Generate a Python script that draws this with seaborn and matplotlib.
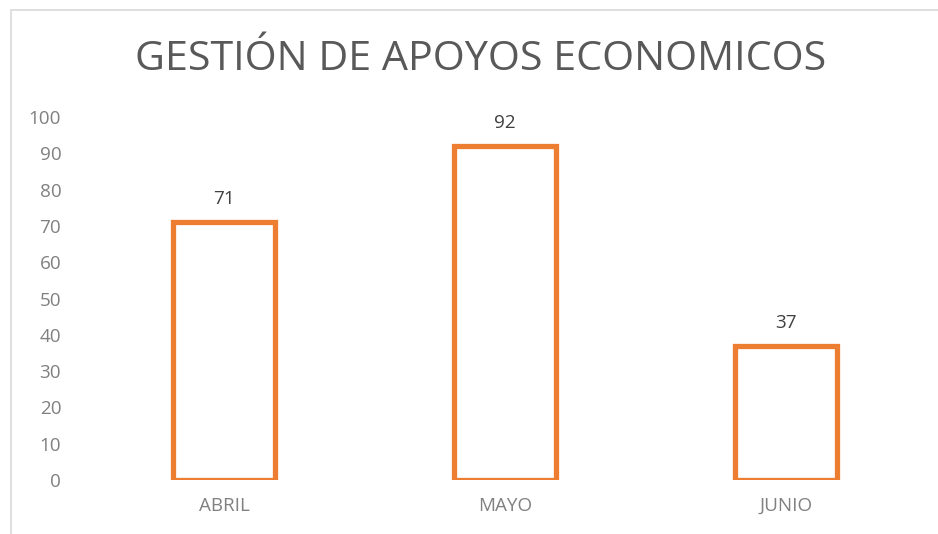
import matplotlib
matplotlib.use("Agg")
import matplotlib.pyplot as plt
import seaborn as sns
import pandas as pd
from matplotlib.patches import Rectangle

categories = ["ABRIL", "MAYO", "JUNIO"]
values = [71, 92, 37]
yticks = [0, 10, 20, 30, 40, 50, 60, 70, 80, 90, 100]
title = "GESTIÓN DE APOYOS ECONOMICOS"

sns.set_theme(style="white")
plt.rcParams["font.family"] = ["Open Sans", "DejaVu Sans"]

df = pd.DataFrame({"mes": categories, "valor": values})

fig = plt.figure(figsize=(9.38, 5.34), dpi=100)
ax = fig.add_axes([83.5 / 938, 1 - 480 / 534, 843 / 938, 363 / 534])

sns.barplot(data=df, x="mes", y="valor", ax=ax, fill=False,
            edgecolor="#ED7D31", linewidth=3.8, width=0.36, errorbar=None)
for p in ax.patches:
    p.set_edgecolor("#ED7D31")
    p.set_facecolor("white")
    p.set_linewidth(3.8)
    p.set_joinstyle("miter")

ax.set_ylim(0, 100)
ax.set_xlim(-0.5, 2.5)
ax.set_yticks(yticks)
ax.set_xlabel("")
ax.set_ylabel("")
for s in ax.spines.values():
    s.set_visible(False)
ax.tick_params(axis="both", length=0, colors="#808080", labelsize=13.6)
ax.tick_params(axis="y", pad=16)
ax.tick_params(axis="x", pad=12)

for c in ax.containers:
    ax.bar_label(c, labels=[str(v) for v in values], padding=10,
                 color="#404040", fontsize=13.6)

fig.text(481 / 938, 1 - 60 / 534, title, ha="center", va="center",
         fontsize=29.7, color="#595959")

fig.patches.append(Rectangle((11 / 938, -0.2), 1.3, 1.2 - 10 / 534,
                             transform=fig.transFigure, fill=False,
                             edgecolor="#d9d9d9", linewidth=1.2, clip_on=False))

fig.savefig("out.png", dpi=100, facecolor="white")
